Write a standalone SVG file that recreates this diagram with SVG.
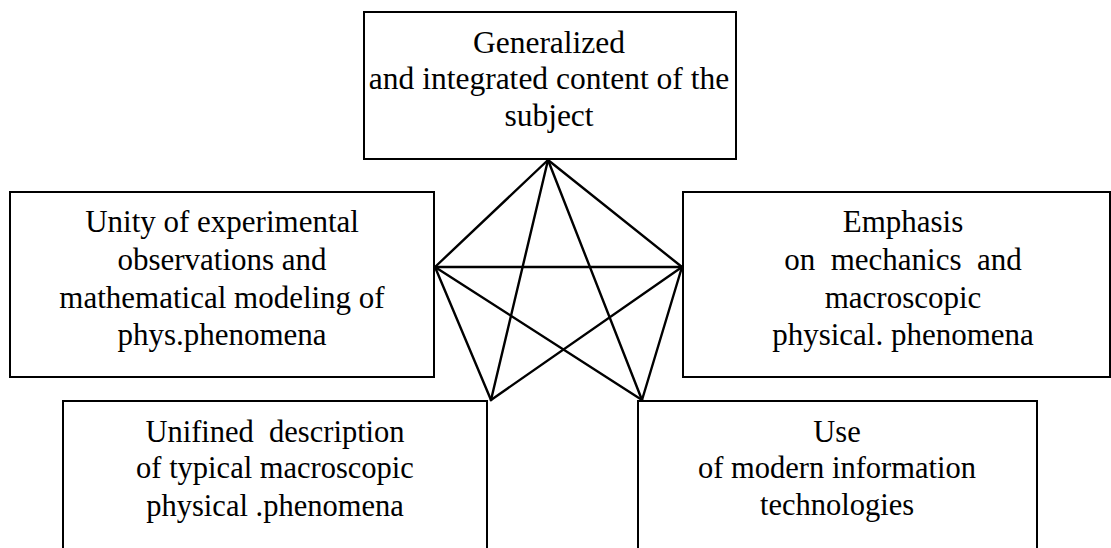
<svg xmlns="http://www.w3.org/2000/svg" width="1111" height="548" viewBox="0 0 1111 548" font-family="Times New Roman, Liberation Serif, serif">
<rect width="1111" height="548" fill="#fff"/>
<g id="n-top">
<rect fill="#fff" stroke="#000" stroke-width="2" x="364" y="12" width="372" height="147"/>
<text font-size="31.5" text-anchor="middle" x="549" y="53">Generalized</text>
<text font-size="31.5" text-anchor="middle" x="549" y="89">and integrated content of the</text>
<text font-size="31.5" text-anchor="middle" x="549" y="126">subject</text>
</g>
<g id="n-left">
<rect fill="#fff" stroke="#000" stroke-width="2" x="10" y="192" width="424" height="185"/>
<text font-size="31" text-anchor="middle" x="222" y="232">Unity of experimental</text>
<text font-size="31" text-anchor="middle" x="222" y="270">observations and</text>
<text font-size="31" text-anchor="middle" x="222" y="308">mathematical modeling of</text>
<text font-size="31" text-anchor="middle" x="222" y="345">phys.phenomena</text>
</g>
<g id="n-right">
<rect fill="#fff" stroke="#000" stroke-width="2" x="683" y="192" width="427" height="185"/>
<text font-size="31" text-anchor="middle" x="903" y="232">Emphasis</text>
<text font-size="31" text-anchor="middle" x="903" y="270">on&#160; mechanics&#160; and</text>
<text font-size="31" text-anchor="middle" x="903" y="308">macroscopic</text>
<text font-size="31" text-anchor="middle" x="903" y="345">physical. phenomena</text>
</g>
<g id="n-bl">
<rect fill="#fff" stroke="#000" stroke-width="2" x="63" y="401" width="424" height="160"/>
<text font-size="30.5" text-anchor="middle" x="275" y="442">Unifined&#160; description</text>
<text font-size="30.5" text-anchor="middle" x="275" y="478">of typical macroscopic</text>
<text font-size="30.5" text-anchor="middle" x="275" y="516">physical .phenomena</text>
</g>
<g id="n-br">
<rect fill="#fff" stroke="#000" stroke-width="2" x="638" y="401" width="399" height="160"/>
<text font-size="30.5" text-anchor="middle" x="837" y="442">Use</text>
<text font-size="30.5" text-anchor="middle" x="837" y="478">of modern information</text>
<text font-size="30.5" text-anchor="middle" x="837" y="515">technologies</text>
</g>
<g id="connectors" stroke="#000" stroke-width="2.4" stroke-linecap="round">
<line x1="548" y1="160" x2="435" y2="267"/>
<line x1="548" y1="160" x2="682" y2="267"/>
<line x1="548" y1="160" x2="491" y2="400"/>
<line x1="548" y1="160" x2="642" y2="400"/>
<line x1="435" y1="267" x2="682" y2="267"/>
<line x1="435" y1="267" x2="491" y2="400"/>
<line x1="435" y1="267" x2="642" y2="400"/>
<line x1="682" y1="267" x2="491" y2="400"/>
<line x1="682" y1="267" x2="642" y2="400"/>
</g>
</svg>
